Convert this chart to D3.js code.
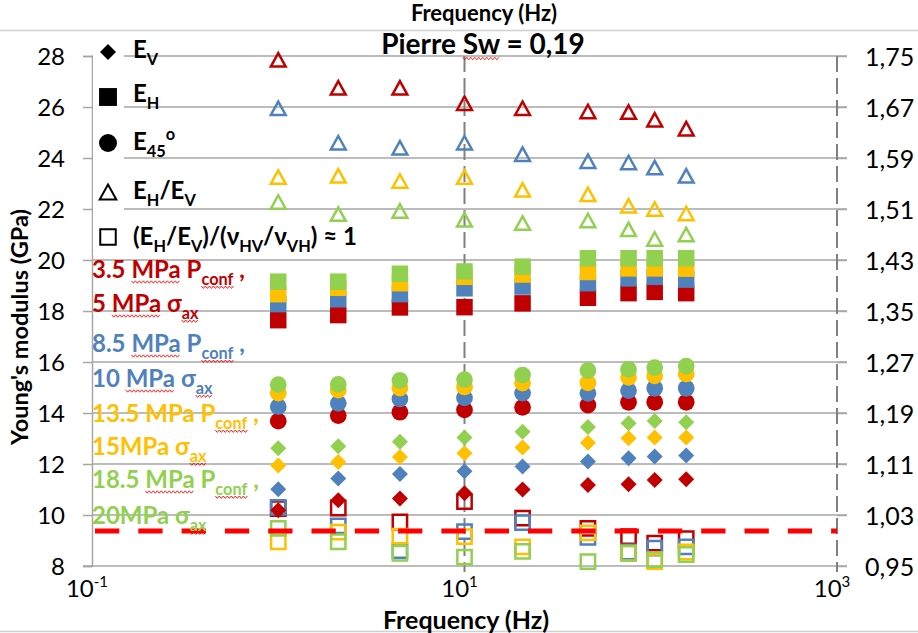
<!DOCTYPE html>
<html>
<head>
<meta charset="utf-8">
<script src="https://cdn.jsdelivr.net/npm/d3@7"></script>
<style>
  body { margin: 0; background: #fff; }
  text { font-family: Lato, "Open Sans", sans-serif; }
</style>
</head>
<body>
<div class="chart"></div>
<script>
// Pierre Sw = 0,19 : Young's modulus vs frequency, 4 loading steps

var freq = [1, 2.1, 4.5, 10, 20.5, 46, 76, 105, 155]

// colours / loading steps (legend order)
var colors = ["#C00000", "#4F81BD", "#FFC000", "#92D050"]

// E_V (GPa) diamonds
var evRed    = [10.19, 10.58, 10.65, 10.85, 11.00, 11.18, 11.21, 11.37, 11.40]
var evBlue   = [11.01, 11.43, 11.61, 11.72, 11.90, 12.10, 12.23, 12.29, 12.33]
var evOrange = [11.94, 12.08, 12.27, 12.42, 12.65, 12.83, 13.01, 13.04, 13.04]
var evGreen  = [12.62, 12.70, 12.87, 13.04, 13.26, 13.45, 13.60, 13.69, 13.64]

// E_H (GPa) squares
var ehRed    = [17.64, 17.84, 18.14, 18.15, 18.30, 18.52, 18.70, 18.75, 18.70]
var ehBlue   = [18.27, 18.46, 18.66, 18.89, 18.96, 19.09, 19.28, 19.34, 19.23]
var ehOrange = [18.66, 18.91, 19.09, 19.34, 19.43, 19.53, 19.67, 19.67, 19.66]
var ehGreen  = [19.15, 19.15, 19.46, 19.55, 19.74, 20.07, 20.07, 20.07, 20.07]

// E_45 (GPa) circles
var e45Red    = [13.68, 13.90, 14.03, 14.12, 14.22, 14.31, 14.42, 14.42, 14.42]
var e45Blue   = [14.25, 14.38, 14.55, 14.59, 14.78, 14.77, 14.88, 14.97, 14.97]
var e45Orange = [14.78, 14.90, 14.98, 15.02, 15.17, 15.18, 15.40, 15.46, 15.53]
var e45Green  = [15.11, 15.12, 15.28, 15.31, 15.49, 15.67, 15.71, 15.78, 15.84]

// E_H/E_V (right axis) open triangles
var anisoRed    = [1.744, 1.700, 1.700, 1.676, 1.668, 1.663, 1.662, 1.650, 1.636]
var anisoBlue   = [1.668, 1.614, 1.606, 1.614, 1.596, 1.585, 1.583, 1.575, 1.562]
var anisoOrange = [1.560, 1.562, 1.554, 1.560, 1.540, 1.533, 1.515, 1.510, 1.503]
var anisoGreen  = [1.521, 1.502, 1.507, 1.493, 1.488, 1.492, 1.478, 1.463, 1.470]

// (E_H/E_V)/(nu_HV/nu_VH) (right axis) open squares
var ratioRed    = [1.040, 1.041, 1.019, 1.051, 1.025, 1.009, 0.996, 0.986, 0.993]
var ratioBlue   = [1.042, 1.013, 0.974, 1.004, 1.018, 0.995, 0.972, 0.978, 0.980]
var ratioOrange = [0.988, 1.003, 0.997, 0.996, 0.980, 1.002, 0.970, 0.957, 0.972]
var ratioGreen  = [1.009, 0.988, 0.970, 0.964, 0.973, 0.957, 0.970, 0.960, 0.968]

var refLine = 1.005   // red dashed reference line (right axis)

var leftTicks = [8, 10, 12, 14, 16, 18, 20, 22, 24, 26, 28]
var rightTicks = [0.95, 1.03, 1.11, 1.19, 1.27, 1.35, 1.43, 1.51, 1.59, 1.67, 1.75]
var xTicks = [0.1, 10, 1000]
var xTickExp = ["-1", "1", "3"]

var width = 918, height = 633
var plot = {left: 92, right: 837, top: 56, bottom: 566}
var grid_color = "#a6a6a6"
var legend_fs = 24

var svg = d3.select(".chart").append("svg")
  .attr("width", width)
  .attr("height", height)

var x = d3.scaleLog().domain([0.1, 1000]).range([plot.left, plot.right])
var yL = d3.scaleLinear().domain([8, 28]).range([plot.bottom, plot.top])
var yR = d3.scaleLinear().domain([0.95, 1.75]).range([plot.bottom, plot.top])

// chart area border lines
svg.append("line").attr("x1", 0).attr("x2", width).attr("y1", 30.5).attr("y2", 30.5)
  .attr("stroke", "#d0d0d0").attr("stroke-width", 1.5)
svg.append("line").attr("x1", 0).attr("x2", width).attr("y1", 631.5).attr("y2", 631.5)
  .attr("stroke", "#d0d0d0").attr("stroke-width", 1.5)

// left axis with gridlines
var gLeft = svg.append("g")
  .attr("transform", "translate(" + plot.left + ",0)")
  .call(d3.axisLeft(yL).tickValues(leftTicks).tickSize(9).tickPadding(18))
gLeft.select(".domain").attr("stroke", grid_color).attr("stroke-width", 1.5)
gLeft.selectAll(".tick line").attr("stroke", grid_color).attr("stroke-width", 1.5)
gLeft.selectAll(".tick text").attr("font-size", 24).attr("fill", "#000")
  .attr("font-family", "Lato, sans-serif").attr("dy", "0.36em")

svg.append("g").selectAll("line")
  .data(leftTicks.filter(function(d) { return d > 8; }))
  .enter().append("line")
    .attr("x1", plot.left).attr("x2", plot.right + 10)
    .attr("y1", function(d) { return yL(d); })
    .attr("y2", function(d) { return yL(d); })
    .attr("stroke", grid_color).attr("stroke-width", 1.5)

// right axis
var gRight = svg.append("g")
  .attr("transform", "translate(" + plot.right + ",0)")
  .call(d3.axisRight(yR).tickValues(rightTicks).tickSize(10).tickPadding(18)
    .tickFormat(function(d) { return d.toFixed(2).replace(".", ","); }))
gRight.select(".domain").remove()
gRight.selectAll(".tick line").attr("stroke", grid_color).attr("stroke-width", 1.5)
gRight.selectAll(".tick text").attr("font-size", 25).attr("fill", "#000")
  .attr("font-family", "Lato, sans-serif").attr("dy", "0.36em")

// bottom axis
svg.append("line")
  .attr("x1", plot.left - 9).attr("x2", plot.right + 10)
  .attr("y1", plot.bottom).attr("y2", plot.bottom)
  .attr("stroke", grid_color).attr("stroke-width", 1.5)

// dashed vertical gridlines at 10 and 1000
svg.append("g").selectAll("line")
  .data([10, 1000])
  .enter().append("line")
    .attr("x1", function(d) { return x(d); })
    .attr("x2", function(d) { return x(d); })
    .attr("y1", plot.top).attr("y2", plot.bottom + 6)
    .attr("stroke", "#808080").attr("stroke-width", 2)
    .attr("stroke-dasharray", "16,6")

var xlab = svg.append("g").selectAll("text")
  .data(xTicks)
  .enter().append("text")
    .attr("x", function(d) { return x(d) - 5; })
    .attr("y", 597)
    .attr("text-anchor", "middle")
    .attr("font-size", 24)
xlab.append("tspan").text("10")
xlab.append("tspan").attr("dy", -10).attr("font-size", 15)
  .text(function(d, i) { return xTickExp[i]; })

// ---------- marker shapes ----------
var diamondType = {
  draw: function(context, size) {
    var s = Math.sqrt(size) / 2
    context.moveTo(0, -s)
    context.lineTo(s, 0)
    context.lineTo(0, s)
    context.lineTo(-s, 0)
    context.closePath()
  }
}
var triangleType = {
  draw: function(context, size) {
    var s = Math.sqrt(size) / 2
    context.moveTo(0, -s * 0.95)
    context.lineTo(s * 1.05, s * 0.95)
    context.lineTo(-s * 1.05, s * 0.95)
    context.closePath()
  }
}

function drawSeries(values, scale, shape, size, color, filled) {
  var sym = d3.symbol().type(shape).size(size)
  svg.append("g").selectAll("path")
    .data(values)
    .enter().append("path")
      .attr("d", sym)
      .attr("transform", function(d, i) { return "translate(" + x(freq[i]) + "," + scale(d) + ")"; })
      .attr("fill", filled ? color : "none")
      .attr("stroke", color)
      .attr("stroke-width", filled ? 0 : 2.5)
}

var ratioAll = [ratioRed, ratioBlue, ratioOrange, ratioGreen]
var anisoAll = [anisoRed, anisoBlue, anisoOrange, anisoGreen]
var ehAll = [ehRed, ehBlue, ehOrange, ehGreen]
var e45All = [e45Red, e45Blue, e45Orange, e45Green]
var evAll = [evRed, evBlue, evOrange, evGreen]

ratioAll.forEach(function(v, i) { drawSeries(v, yR, d3.symbolSquare, 205, colors[i], false); })

// reference line
svg.append("line")
  .attr("x1", 95).attr("x2", plot.right)
  .attr("y1", yR(refLine)).attr("y2", yR(refLine))
  .attr("stroke", "#FF0000").attr("stroke-width", 5)
  .attr("stroke-dasharray", "24.3,19")

anisoAll.forEach(function(v, i) { drawSeries(v, yR, triangleType, 200, colors[i], false); })
ehAll.forEach(function(v, i) { drawSeries(v, yL, d3.symbolSquare, 272, colors[i], true); })
e45All.forEach(function(v, i) { drawSeries(v, yL, d3.symbolCircle, 220, colors[i], true); })
evAll.forEach(function(v, i) { drawSeries(v, yL, diamondType, 256, colors[i], true); })

// ---------- texts ----------
function richText(xp, yp, parts, fs, color) {
  var t = svg.append("text")
    .attr("x", xp).attr("y", yp)
    .attr("font-size", fs)
    .attr("font-weight", "bold")
    .attr("fill", color)
  var shift = 0
  parts.forEach(function(p) {
    var target = p[1] == "sub" ? fs * 0.3 : (p[1] == "sup" ? -fs * 0.42 : 0)
    var ts = t.append("tspan").attr("dy", target - shift).text(p[0])
    if (p[1]) ts.attr("font-size", fs * 0.68)
    if (p[2]) ts.classed("wavy", true)
    shift = target
  })
  return t
}

// symbol legend
var legendSymbols = [
  [diamondType, 256, true, 52],
  [d3.symbolSquare, 320, true, 97],
  [d3.symbolCircle, 255, true, 143],
  [triangleType, 250, false, 192],
  [d3.symbolSquare, 240, false, 237]
]
svg.append("rect").attr("x", plot.left + 1).attr("y", 40).attr("width", 31).attr("height", 215).attr("fill", "#fff")
legendSymbols.forEach(function(s) {
  svg.append("path")
    .attr("d", d3.symbol().type(s[0]).size(s[1]))
    .attr("transform", "translate(108," + s[3] + ")")
    .attr("fill", s[2] ? "#000" : "none")
    .attr("stroke", "#000")
    .attr("stroke-width", s[2] ? 0 : 2)
})

richText(133, 58, [["E"], ["V", "sub"]], legend_fs, "#000")
richText(133, 102, [["E"], ["H", "sub"]], legend_fs, "#000")
richText(133, 150, [["E"], ["45", "sub"], ["o", "sup"]], legend_fs, "#000")
richText(133, 199, [["E"], ["H", "sub"], ["/E"], ["V", "sub"]], legend_fs, "#000")
richText(133, 245, [["(E"], ["H", "sub"], ["/E"], ["V", "sub"], [")/(ν"], ["HV", "sub"], ["/ν"], ["VH", "sub"], [") ≈ 1"]], legend_fs, "#000")

// loading-step legend
var stepLabels = [
  [[["3.5 "], ["MPa", null, true], [" P"], ["conf", "sub", true], [" ,"]], 278, colors[0]],
  [[["5 "], ["MPa", null, true], [" σ"], ["ax", "sub", true]], 312, colors[0]],
  [[["8.5 "], ["MPa", null, true], [" P"], ["conf", "sub", true], [" ,"]], 352, colors[1]],
  [[["10 "], ["MPa", null, true], [" σ"], ["ax", "sub", true]], 387, colors[1]],
  [[["13.5 MPa P"], ["conf", "sub", true], [" ,"]], 422, colors[2]],
  [[["15MPa σ"], ["ax", "sub", true]], 455, colors[2]],
  [[["18.5 "], ["MPa", null, true], [" P"], ["conf", "sub", true], [" ,"]], 488, colors[3]],
  [[["20MPa σ"], ["ax", "sub", true]], 524, colors[3]]
]
stepLabels.forEach(function(s) { richText(92, s[1], s[0], legend_fs, s[2]); })

// titles
svg.append("text").attr("x", 484).attr("y", 21).attr("text-anchor", "middle")
  .attr("font-size", 22).attr("font-weight", "bold").text("Frequency (Hz)")
var ttl = svg.append("text").attr("x", 483).attr("y", 53.5).attr("text-anchor", "middle")
  .attr("font-size", 28).attr("font-weight", "bold")
ttl.append("tspan").text("Pierre ")
ttl.append("tspan").classed("wavy", true).text("Sw")
ttl.append("tspan").text(" = 0,19")

svg.append("text").attr("x", 466).attr("y", 629).attr("text-anchor", "middle")
  .attr("font-size", 25).attr("font-weight", "bold").text("Frequency (Hz)")
svg.append("text")
  .attr("transform", "translate(28,327)rotate(-90)")
  .attr("text-anchor", "middle")
  .attr("font-size", 23.5).attr("font-weight", "bold")
  .text("Young's modulus (GPa)")

// spell-check squiggles under the flagged words
svg.selectAll(".wavy").each(function() {
  var b = this.getBBox()
  var yy = b.y + b.height - 1
  var pts = []
  for (var xx = b.x; xx <= b.x + b.width; xx += 2) pts.push([xx, yy + ((pts.length % 2) ? 1.2 : -1.2)])
  svg.append("path")
    .attr("d", d3.line()(pts))
    .attr("fill", "none")
    .attr("stroke", "#FF0000")
    .attr("stroke-width", 0.9)
})
</script>
</body>
</html>
